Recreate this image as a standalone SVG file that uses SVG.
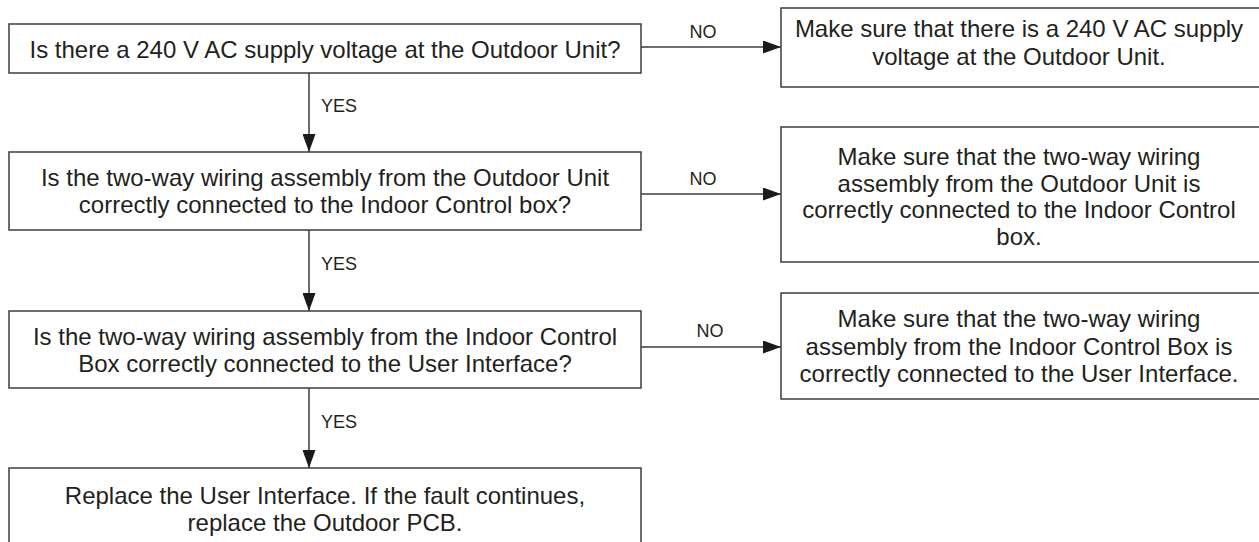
<svg xmlns="http://www.w3.org/2000/svg" width="1259" height="542" viewBox="0 0 1259 542">
<style>
.box{fill:#fff;stroke:#3c3c3c;stroke-width:1.5}
.t{font-family:"Liberation Sans",Arial,sans-serif;font-size:24px;fill:#231f20;text-anchor:middle}
.lbl{font-family:"Liberation Sans",Arial,sans-serif;font-size:18px;fill:#231f20}
.c{stroke:#3c3c3c;stroke-width:1.5;fill:none;marker-end:url(#ah)}
</style>
<defs>
<marker id="ah" markerUnits="userSpaceOnUse" markerWidth="18" markerHeight="13" refX="18" refY="6.5" orient="auto">
<path d="M0,0 L18,6.5 L0,13 Z" fill="#1a1a1a"/>
</marker>
</defs>
<rect width="1259" height="542" fill="#fff"/>
<g id="connectors">
<line class="c" x1="641" y1="47" x2="781" y2="47"/>
<line class="c" x1="641" y1="194" x2="781" y2="194"/>
<line class="c" x1="641" y1="347" x2="781" y2="347"/>
<line class="c" x1="309" y1="73" x2="309" y2="152"/>
<line class="c" x1="309" y1="230" x2="309" y2="311"/>
<line class="c" x1="309" y1="388" x2="309" y2="468"/>
<text class="lbl" x="703" y="38" text-anchor="middle">NO</text>
<text class="lbl" x="703" y="185" text-anchor="middle">NO</text>
<text class="lbl" x="710" y="337" text-anchor="middle">NO</text>
<text class="lbl" x="321" y="112">YES</text>
<text class="lbl" x="321" y="270">YES</text>
<text class="lbl" x="321" y="428">YES</text>
</g>
<g id="q1">
<rect class="box" x="9" y="24" width="632" height="49"/>
<text class="t" x="325" y="58">Is there a 240 V AC supply voltage at the Outdoor Unit?</text>
</g>
<g id="a1">
<rect class="box" x="781" y="8" width="485" height="79"/>
<text class="t" x="1019" y="37">Make sure that there is a 240 V AC supply</text>
<text class="t" x="1019" y="65">voltage at the Outdoor Unit.</text>
</g>
<g id="q2">
<rect class="box" x="9" y="152" width="632" height="78"/>
<text class="t" x="325" y="186">Is the two-way wiring assembly from the Outdoor Unit</text>
<text class="t" x="325" y="213">correctly connected to the Indoor Control box?</text>
</g>
<g id="a2">
<rect class="box" x="781" y="127" width="485" height="135"/>
<text class="t" x="1019" y="165">Make sure that the two-way wiring</text>
<text class="t" x="1019" y="191.7">assembly from the Outdoor Unit is</text>
<text class="t" x="1019" y="218.3">correctly connected to the Indoor Control</text>
<text class="t" x="1019" y="245">box.</text>
</g>
<g id="q3">
<rect class="box" x="9" y="311" width="632" height="77"/>
<text class="t" x="325" y="345">Is the two-way wiring assembly from the Indoor Control</text>
<text class="t" x="325" y="372">Box correctly connected to the User Interface?</text>
</g>
<g id="a3">
<rect class="box" x="781" y="293" width="485" height="106"/>
<text class="t" x="1019" y="327">Make sure that the two-way wiring</text>
<text class="t" x="1019" y="354.5">assembly from the Indoor Control Box is</text>
<text class="t" x="1019" y="382">correctly connected to the User Interface.</text>
</g>
<g id="end">
<rect class="box" x="9" y="468" width="632" height="90"/>
<text class="t" x="325" y="504">Replace the User Interface. If the fault continues,</text>
<text class="t" x="325" y="531">replace the Outdoor PCB.</text>
</g>
</svg>
